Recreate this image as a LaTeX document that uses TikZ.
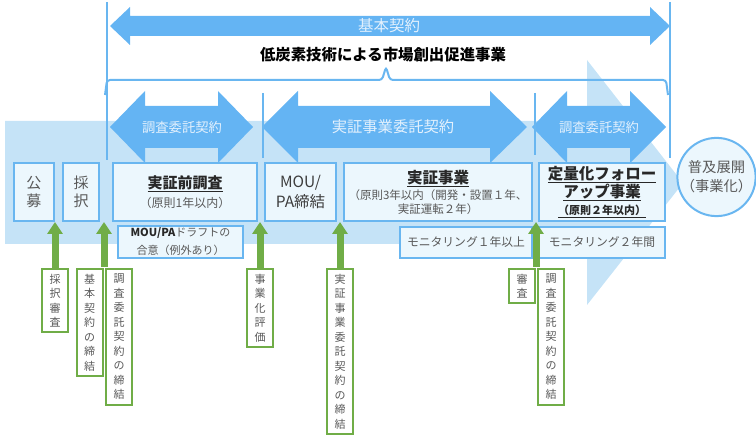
\documentclass[tikz,border=0pt]{standalone}
\usepackage{fontspec}
\setmainfont{Noto Sans CJK JP}
\usepackage{tikz}
\usetikzlibrary{
	arrows.meta,
	shapes,
	calc}

\definecolor{bandblue}{RGB}{197,227,247}
\definecolor{arrblue}{RGB}{100,180,243}
\definecolor{lineblue}{RGB}{105,182,240}
\definecolor{boxfill}{RGB}{236,247,253}
\definecolor{ggreen}{RGB}{112,173,71}
\definecolor{txtgray}{RGB}{89,89,89}
\definecolor{txtdark}{RGB}{40,40,40}
\definecolor{arrtxt}{RGB}{228,241,253}

\tikzset{
	bbox/.style={draw=lineblue, line width=2pt, fill=boxfill, inner sep=0pt, align=center, text=txtgray},
	lbl/.style={draw=ggreen, line width=2pt, fill=white, anchor=north, minimum width=26pt,
		inner xsep=0pt, inner ysep=5pt, align=center, text=txtgray, font=\fontsize{11}{14.5}\selectfont},
	garr/.style={ggreen, line width=7pt, -{Triangle[width=15pt,length=12pt]}},
	bline/.style={lineblue, line width=2pt},
	atxt/.style={text=arrtxt, inner sep=0pt}
}

\begin{document}
\begin{tikzpicture}[x=1pt,y=-1pt]
    \useasboundingbox (0,0) rectangle (756,446);

    % big background arrow
    \fill[bandblue] (5,121) -- (587,121) -- (587,60) -- (683,183) -- (587,305) -- (587,244) -- (5,244) -- cycle;

    % top contract arrow
    \fill[arrblue] (110,26) -- (130,7) -- (130,16) -- (650,16) -- (650,7) -- (670,26)
        -- (650,45) -- (650,36) -- (130,36) -- (130,45) -- cycle;
    \node[atxt, font=\fontsize{15.5}{18}\selectfont] (T0) at (389,26) {基本契約};
    \node[font=\fontsize{15.4}{18}\selectfont\bfseries] (N0) at (383,55) {低炭素技術による市場創出促進事業};

    \draw[bline] (107,2) -- (107,160);
    \draw[bline] (670,2) -- (670,158);
    \draw[bline, rounded corners=3pt] (105,95) -- (107,80) -- (382,80) -- (386,67) -- (390,80) -- (666,80) -- (668,95);

    % contract arrows
    \foreach \xa/\xb/\xc/\xd in {110/145/218/253, 262/298/490/527, 532/567/630/666}
        \fill[arrblue] (\xa,127) -- (\xb,91) -- (\xb,106) -- (\xc,106) -- (\xc,91) -- (\xd,127)
            -- (\xc,163) -- (\xc,148) -- (\xb,148) -- (\xb,163) -- cycle;
    \node[atxt, font=\fontsize{13.3}{16}\selectfont] (T1) at (182,127) {調査委託契約};
    \node[atxt, font=\fontsize{15.3}{18}\selectfont] (T2) at (393,127) {実証事業委託契約};
    \node[atxt, font=\fontsize{13.3}{16}\selectfont] (T3) at (599,127) {調査委託契約};

    \draw[bline] (263,93) -- (263,158);
    \draw[bline] (535,93) -- (535,155);

    % phase boxes
    \node[bbox, minimum width=40pt, minimum height=58pt, font=\fontsize{15}{18}\selectfont] (B1) at (34,192) {公\\募};
    \node[bbox, minimum width=36pt, minimum height=58pt, font=\fontsize{15}{18}\selectfont] (B2) at (81,192) {採\\択};
    \node[bbox, minimum width=144pt, minimum height=58pt, font=\fontsize{12}{19}\selectfont] (B3) at (185,192)
        {{\fontsize{15}{19}\selectfont\bfseries\color{txtdark}\underline{実証前調査}}\\（原則1年以内）};
    \node[bbox, minimum width=71pt, minimum height=58pt, text=txtdark!90, font=\fontsize{15.5}{20}\selectfont] (B4) at (300.5,192) {MOU/\\PA締結};
    \node[bbox, minimum width=188pt, minimum height=58pt, font=\fontsize{11.5}{14}\selectfont] (B5) at (438,192)
        {{\fontsize{15.5}{18}\selectfont\bfseries\color{txtdark}\underline{実証事業}}\\[2pt]（原則3年以内（開発・設置１年、\\実証運転２年）};
    \node[bbox, minimum width=126pt, minimum height=58pt, text=txtdark, font=\fontsize{15.5}{18}\selectfont\bfseries] (B6) at (602,192)
        {\underline{定量化フォロー}\\\underline{アップ事業}\\[-1pt]{\fontsize{11}{13}\selectfont\underline{（原則２年以内）}}};
    \node[bbox, minimum width=125pt, minimum height=32pt, font=\fontsize{11}{18}\selectfont] (D3) at (180.5,242)
        {{\bfseries\color{txtdark}MOU/PA}ドラフトの\\合意（例外あり）};
    \node[bbox, minimum width=132pt, minimum height=31pt, font=\fontsize{11.8}{14}\selectfont] (M5) at (466,242.5) {モニタリング１年以上};
    \node[bbox, minimum width=126pt, minimum height=31pt, font=\fontsize{11.8}{14}\selectfont] (M6) at (602,242.5) {モニタリング２年間};
    \node[bbox, circle, minimum size=77pt, font=\fontsize{14.3}{19}\selectfont] (C7) at (716.5,177) {普及展開\\（事業化）};

    % milestone labels
    \node[lbl] (L1) at (55,268) {採\\択\\審\\査};
    \node[lbl] (L2) at (89.5,268) {基\\本\\契\\約\\の\\締\\結};
    \node[lbl] (L3) at (119,268) {調\\査\\委\\託\\契\\約\\の\\締\\結};
    \node[lbl] (L4) at (260,268) {事\\業\\化\\評\\価};
    \node[lbl] (L5) at (340,268) {実\\証\\事\\業\\委\\託\\契\\約\\の\\締\\結};
    \node[lbl] (L6) at (522,268) {審\\査};
    \node[lbl] (L7) at (551,268) {調\\査\\委\\託\\契\\約\\の\\締\\結};
    \coordinate (G2) at (104,267);
    \coordinate (G6) at (536,267);

    \draw [garr] (L1.north) to (L1.north |- B1.south);
    \draw [garr] (G2) to (G2 |- B2.south);
    \draw [garr] (L4.north) to (L4.north |- B3.south);
    \draw [garr] (L5.north) to (L5.north |- B4.south);
    \draw [garr] (G6) to (G6 |- B5.south);
\end{tikzpicture}
\end{document}
